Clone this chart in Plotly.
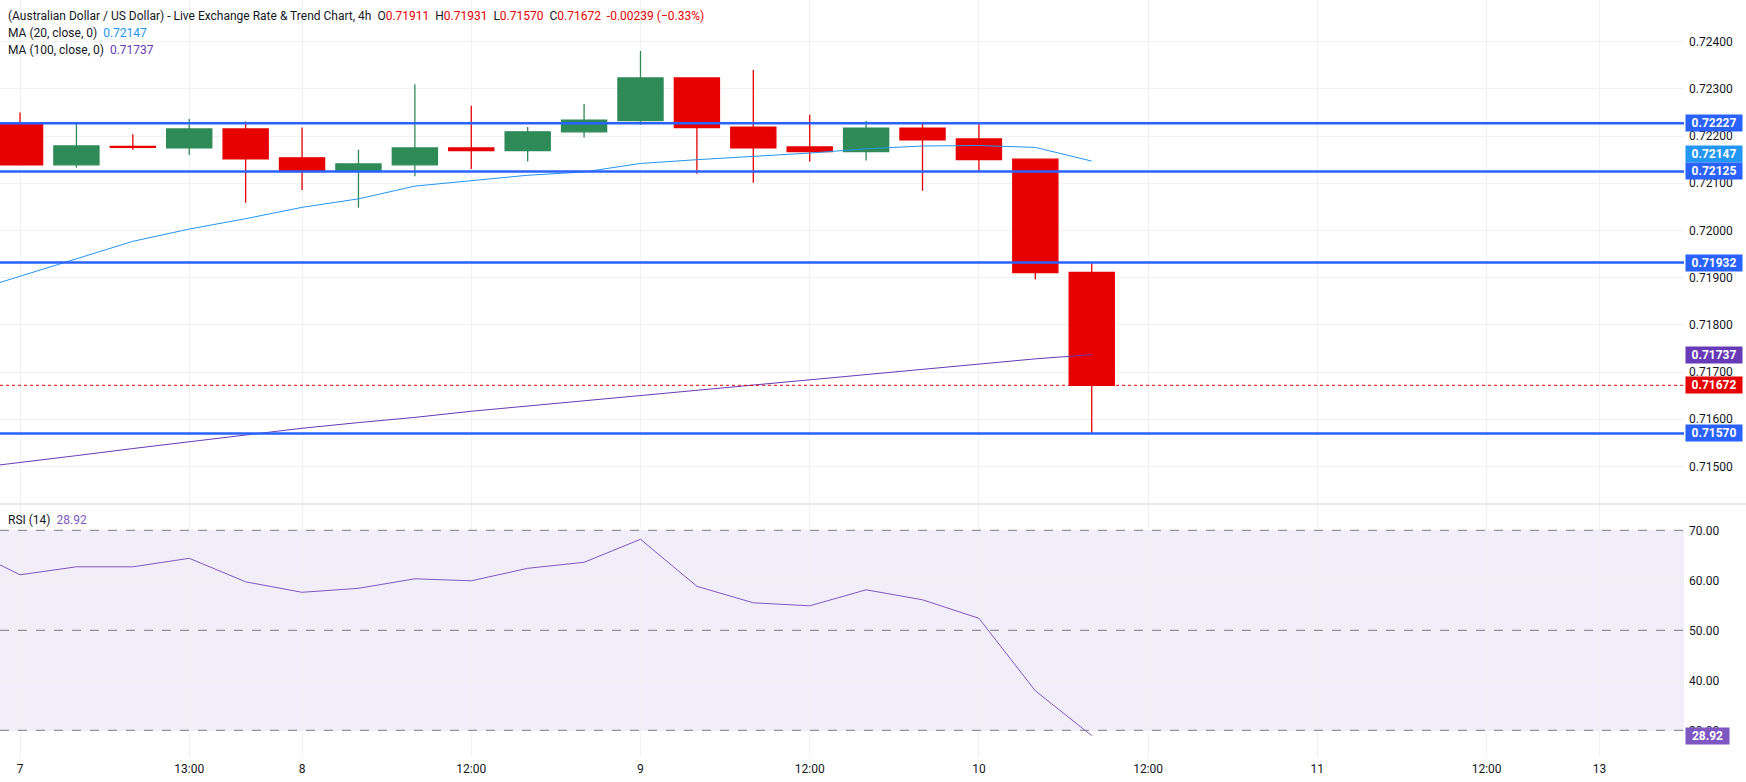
import plotly.graph_objects as go

# --- AUD/USD 4h candles (bar index 0 = the "7" tick) ---
bar = list(range(20))
opens = [0.72228, 0.72139, 0.72178, 0.72175, 0.72215, 0.72154, 0.72125, 0.72139, 0.72175, 0.72169,
         0.72209, 0.72233, 0.72323, 0.72219, 0.72177, 0.72167, 0.72217, 0.72194, 0.72151, 0.71911]
highs = [0.72250, 0.72227, 0.72204, 0.72236, 0.72231, 0.72218, 0.72171, 0.72310, 0.72264, 0.72219,
         0.72268, 0.72380, 0.72323, 0.72340, 0.72245, 0.72232, 0.72227, 0.72227, 0.72151, 0.71931]
lows = [0.72138, 0.72133, 0.72171, 0.72160, 0.72059, 0.72086, 0.72048, 0.72115, 0.72130, 0.72146,
        0.72197, 0.72224, 0.72120, 0.72101, 0.72146, 0.72148, 0.72084, 0.72126, 0.71896, 0.71570]
closes = [0.72139, 0.72179, 0.72176, 0.72215, 0.72152, 0.72125, 0.72141, 0.72175, 0.72169, 0.72209,
          0.72234, 0.72323, 0.72218, 0.72175, 0.72167, 0.72217, 0.72192, 0.72150, 0.71911, 0.71672]

# indicators start one bar earlier so the lines run off the left edge
ind_x = list(range(-1, 20))
ma20 = [0.71866, 0.71903, 0.71940, 0.71977, 0.72003, 0.72025, 0.72049, 0.72067, 0.72094, 0.72105, 0.72117,
        0.72124, 0.72142, 0.72150, 0.72157, 0.72164, 0.72173, 0.72179, 0.72180, 0.72176, 0.72147]
ma100 = [0.71494, 0.71508, 0.71523, 0.71538, 0.71552, 0.71567, 0.71581, 0.71593, 0.71604, 0.71617, 0.71628,
         0.71639, 0.71650, 0.71661, 0.71672, 0.71684, 0.71695, 0.71706, 0.71717, 0.71728, 0.71737]
rsi = [66.7, 61.1, 62.7, 62.7, 64.4, 59.7, 57.6, 58.4, 60.3, 59.9, 62.4,
       63.6, 68.2, 58.8, 55.5, 54.9, 58.1, 56.1, 52.4, 37.9, 28.92]

levels = [0.72227, 0.72125, 0.71932, 0.71570]
last_price = 0.71672

time_ticks = [0, 3, 5, 8, 11, 14, 17, 20, 23, 26, 28]
time_labels = ["7", "13:00", "8", "12:00", "9", "12:00", "10", "12:00", "11", "12:00", "13"]
price_ticks = [0.715, 0.716, 0.717, 0.718, 0.719, 0.720, 0.721, 0.722, 0.723, 0.724]
rsi_ticks = [30, 40, 50, 60, 70]

GREEN = "#2E8A57"
RED = "#E60000"
LEVEL_BLUE = "#2962FF"
MA20_C = "#2196F3"
MA100_C = "#673AB7"
RSI_C = "#7E57C2"
GRID = "#F0F1F4"
TXT = "#131722"
FONT = "Roboto"

fig = go.Figure()

fig.add_trace(go.Candlestick(
    x=bar, open=opens, high=highs, low=lows, close=closes,
    increasing=dict(line=dict(color=GREEN, width=1.3), fillcolor=GREEN),
    decreasing=dict(line=dict(color=RED, width=1.3), fillcolor=RED),
    whiskerwidth=0, showlegend=False, xaxis="x", yaxis="y",
))
fig.add_trace(go.Scatter(x=ind_x, y=ma20, mode="lines", line=dict(color=MA20_C, width=1),
                         showlegend=False, xaxis="x", yaxis="y"))
fig.add_trace(go.Scatter(x=ind_x, y=ma100, mode="lines", line=dict(color=MA100_C, width=1),
                         showlegend=False, xaxis="x", yaxis="y"))
fig.add_trace(go.Scatter(x=ind_x, y=rsi, mode="lines", line=dict(color=RSI_C, width=1),
                         showlegend=False, xaxis="x2", yaxis="y2"))

shapes = []
# horizontal levels
for lv in levels:
    shapes.append(dict(type="line", xref="paper", x0=0, x1=1, yref="y", y0=lv, y1=lv,
                       line=dict(color=LEVEL_BLUE, width=2.5)))
shapes.append(dict(type="line", xref="paper", x0=0, x1=1, yref="y", y0=last_price, y1=last_price,
                   line=dict(color=RED, width=1, dash="dot")))
# RSI band + guide lines
shapes.append(dict(type="rect", xref="paper", x0=0, x1=1, yref="y2", y0=30, y1=70,
                   fillcolor="rgba(126,87,194,0.1)", line=dict(width=0), layer="below"))
for g in [70, 50, 30]:
    shapes.append(dict(type="line", xref="paper", x0=0, x1=1, yref="y2", y0=g, y1=g,
                       line=dict(color="#787B86", width=1, dash="dash")))
# pane separator
shapes.append(dict(type="line", xref="paper", x0=0, x1=1.04, yref="paper", y0=0.3342, y1=0.3342,
                   line=dict(color="#E0E3EB", width=1.5)))

# price tags on the right axis
tags = [
    (0.72227, LEVEL_BLUE, 0),
    (0.72147, MA20_C, 7),
    (0.72125, LEVEL_BLUE, 0),
    (0.71932, LEVEL_BLUE, 0),
    (0.71737, MA100_C, 0),
    (last_price, RED, 0),
    (0.71570, LEVEL_BLUE, 0),
]
annotations = []
for val, col, ys in tags:
    annotations.append(dict(
        xref="paper", x=1, xanchor="left", xshift=1, yref="y", y=val, yshift=ys,
        text="<b>%.5f</b>" % val, showarrow=False, bgcolor=col, width=54, height=14,
        borderpad=1, font=dict(family=FONT, size=12, color="white"), align="center"))
annotations.append(dict(
    xref="paper", x=1, xanchor="left", xshift=1, yref="y2", y=rsi[-1],
    text="<b>%.2f</b>" % rsi[-1], showarrow=False, bgcolor=RSI_C, width=41, height=14,
    borderpad=1, font=dict(family=FONT, size=12, color="white"), align="center"))


def red(s):
    return '<span style="color:%s">%s</span>' % (RED, s)


title_txt = ("(Australian Dollar / US Dollar) - Live Exchange Rate &amp; Trend Chart, 4h&nbsp;&nbsp;"
             "O" + red("0.71911") + "&nbsp;&nbsp;H" + red("0.71931") + "&nbsp;&nbsp;L" + red("0.71570")
             + "&nbsp;&nbsp;C" + red("0.71672") + "&nbsp;&nbsp;" + red("-0.00239 (\u22120.33%)"))
legend_rows = [
    (title_txt, -16),
    ('MA (20, close, 0)&nbsp;&nbsp;<span style="color:%s">%.5f</span>' % (MA20_C, ma20[-1]), -33),
    ('MA (100, close, 0)&nbsp;&nbsp;<span style="color:%s">%.5f</span>' % (MA100_C, ma100[-1]), -50),
]
for txt, ys in legend_rows:
    annotations.append(dict(xref="paper", x=0, xanchor="left", xshift=6, yref="paper", y=1,
                            yanchor="middle", yshift=ys, text=txt, showarrow=False,
                            font=dict(family=FONT, size=12, color=TXT)))
annotations.append(dict(xref="paper", x=0, xanchor="left", xshift=6, yref="paper", y=0.3342,
                        yanchor="middle", yshift=-16,
                        text='RSI (14)&nbsp;&nbsp;<span style="color:%s">%.2f</span>' % (RSI_C, rsi[-1]),
                        showarrow=False, font=dict(family=FONT, size=12, color=TXT)))

x_range = [-0.355, 29.5]
fig.update_layout(
    width=1746, height=782,
    margin=dict(l=0, r=62, t=0, b=25),
    paper_bgcolor="white", plot_bgcolor="white",
    font=dict(family=FONT, size=12, color=TXT),
    showlegend=False,
    boxgap=0.2, boxgroupgap=0,
    xaxis=dict(domain=[0, 1], range=x_range, anchor="y", tickvals=time_ticks, showticklabels=False,
               showgrid=True, gridcolor=GRID, zeroline=False, rangeslider=dict(visible=False),
               fixedrange=True),
    xaxis2=dict(domain=[0, 1], range=x_range, anchor="y2", tickvals=time_ticks, ticktext=time_labels,
                showgrid=True, gridcolor=GRID, zeroline=False, ticks="", ticklabelstandoff=3,
                tickfont=dict(size=12, color=TXT)),
    yaxis=dict(domain=[0.3342, 1], range=[0.714205, 0.724883], side="right", anchor="x",
               tickvals=price_ticks, tickformat=".5f", showgrid=True, gridcolor=GRID,
               zeroline=False, ticks="", ticklabelstandoff=4),
    yaxis2=dict(domain=[0, 0.3342], range=[24.66, 75.26], side="right", anchor="x2",
                tickvals=rsi_ticks, tickformat=".2f", showgrid=True, gridcolor=GRID,
                zeroline=False, ticks="", ticklabelstandoff=4),
    shapes=shapes,
    annotations=annotations,
)

# the page's default body margin would push the 1746px figure off the window
fig.write_html("out.html", config={"displayModeBar": False},
               post_script="document.body.style.margin='0';")
